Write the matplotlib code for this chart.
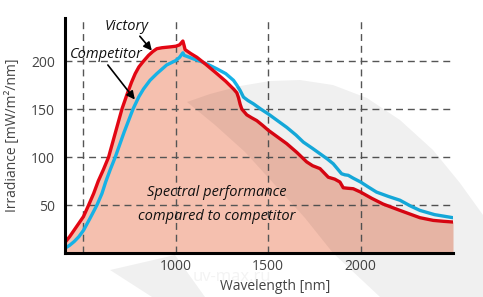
import matplotlib
matplotlib.use("Agg")
import matplotlib.pyplot as plt
from matplotlib.patches import Polygon

plt.rcParams['font.family'] = ['Open Sans', 'DejaVu Sans']

# ---- data ----
red_x = [400, 425, 450, 475, 500, 528, 555, 580, 608, 636, 672, 708, 735, 760, 780, 800, 825,
         852, 875, 897, 925, 950, 975, 1000, 1020, 1038, 1045, 1050, 1080, 1114, 1160, 1222,
         1270, 1312, 1330, 1339, 1348, 1357, 1384, 1410, 1438, 1470, 1500, 1550, 1600, 1654,
         1708, 1740, 1780, 1825, 1860, 1888, 1906, 1930, 1960, 2000, 2060, 2122, 2213, 2321,
         2393, 2450, 2500]
red_y = [11, 17, 24, 31, 38, 50, 62, 75, 87, 100, 125, 150, 165, 178, 187, 194, 200,
         206, 210, 213, 214, 214.5, 215, 215.6, 217, 221, 216, 212, 208, 204, 197, 187,
         179, 171, 167, 162, 155, 150, 144, 141, 138, 133, 128, 121, 114, 105,
         95, 91, 88, 79, 77, 74, 68, 67.5, 67, 63.5, 57, 51, 44.4, 36.8,
         34, 33, 32.3]

blue_x = [400, 425, 450, 475, 500, 535, 573, 600, 620, 645, 672, 720, 768, 800, 825, 860,
          897, 950, 1000, 1020, 1038, 1045, 1060, 1100, 1132, 1180, 1222, 1270, 1312, 1330,
          1348, 1366, 1390, 1420, 1460, 1500, 1550, 1600, 1650, 1690, 1740, 1780, 1820, 1852,
          1897, 1915, 1933, 1960, 2000, 2040, 2086, 2150, 2213, 2270, 2321, 2400, 2500]
blue_y = [5, 8, 12, 17, 23.6, 36, 50, 62, 74, 87, 100, 126, 150, 163, 171, 180,
          187, 196, 200.7, 204, 208.7, 206, 205, 202, 200, 196, 192, 187, 180, 175,
          169.4, 162.5, 159, 155.5, 150, 145, 138, 131, 123, 115.6, 109, 103.5, 98, 93,
          82.6, 81.5, 81, 78, 74, 69, 63.5, 59, 55, 49, 44.4, 40, 36.8]

grid_x = [500, 1000, 1500, 2000]
xtick_labels = ['', '1000', '1500', '2000']
grid_y = [50, 100, 150, 200]
ytick_labels = ['50', '100', '150', '200']

RED = '#e30613'
BLUE = '#16b2e6'
FILL = '#f5c0af'
TXT = '#444444'

W, H = 483, 297
fig = plt.figure(figsize=(W / 100, H / 100), dpi=100)
ax = fig.add_axes([65 / W, 1 - 253 / H, (453 - 65) / W, (253 - 18) / H])

ax.set_xlim(400, 2500)
ax.set_ylim(0, 245)

ax.fill_between(red_x, 0, red_y, color=FILL, lw=0, zorder=1)

for v in grid_x:
    ax.axvline(v, color='#555555', lw=1.0, dashes=(5, 3.5), zorder=2)
for v in grid_y:
    ax.axhline(v, color='#555555', lw=1.0, dashes=(5, 3.5), zorder=2)

ax.plot(blue_x, blue_y, color=BLUE, lw=2.4, zorder=4, solid_joinstyle='round')
ax.plot(red_x, red_y, color=RED, lw=2.4, zorder=5, solid_joinstyle='round')

ax.set_xticks(grid_x)
ax.set_xticklabels(xtick_labels)
ax.set_yticks(grid_y)
ax.set_yticklabels(ytick_labels)
ax.tick_params(axis='both', length=0, labelsize=10, labelcolor=TXT)
ax.tick_params(axis='x', pad=4)
ax.tick_params(axis='y', pad=7)

for s in ['top', 'right']:
    ax.spines[s].set_visible(False)
for s in ['left', 'bottom']:
    ax.spines[s].set_linewidth(2.2)
    ax.spines[s].set_color('black')
    ax.spines[s].set_zorder(6)

ax.set_xlabel('Wavelength [nm]', fontsize=10, color=TXT)
ax.xaxis.set_label_coords((275 - 65) / 388, (253 - 287) / 235)
ax.xaxis.label.set_va('center')
ax.set_ylabel('Irradiance [mW/m²/nm]', fontsize=10, color=TXT)
ax.yaxis.set_label_coords((13 - 65) / 388, (253 - 135) / 235)
ax.yaxis.label.set_va('center')

arrow = dict(arrowstyle='-|>', color='black', lw=1.2, mutation_scale=12, shrinkA=0, shrinkB=0)
ax.text(735, 236, 'Victory', fontsize=10.5, style='italic', ha='center', va='center',
        color='#111111', zorder=7)
ax.annotate('', xy=(870, 211), xytext=(805, 226), arrowprops=arrow, zorder=7)
ax.text(622, 207, 'Competitor', fontsize=10.5, style='italic', ha='center', va='center',
        color='#111111', zorder=7)
ax.annotate('', xy=(778, 160), xytext=(632, 196), arrowprops=arrow, zorder=7)

ax.text(1222, 63.5, 'Spectral performance', fontsize=10.5, style='italic', ha='center',
        va='center', color='#111111', zorder=7)
ax.text(1222, 38.5, 'compared to competitor', fontsize=10.5, style='italic', ha='center',
        va='center', color='#111111', zorder=7)

# faint watermark shapes (figure pixel coords -> figure fraction)
def fp(pts):
    return [(x / W, 1 - y / H) for x, y in pts]

crescent = [(187, 102), (210, 94), (240, 86), (270, 81), (300, 80), (333, 85), (367, 98),
            (400, 120), (433, 150), (460, 183), (483, 215), (483, 297), (380, 297),
            (333, 253), (305, 218), (275, 185), (245, 152), (215, 125)]
wedge = [(110, 270), (175, 255), (205, 297), (152, 297)]
for pts in (crescent, wedge):
    fig.patches.append(Polygon(fp(pts), closed=True, transform=fig.transFigure,
                               facecolor='black', alpha=0.06, lw=0, zorder=10))
fig.text(232 / W, 1 - 277 / H, 'uv-max.ru', fontsize=12, color='#f3f3f3',
         ha='center', va='center', zorder=0)

fig.savefig('out.png', dpi=100)
